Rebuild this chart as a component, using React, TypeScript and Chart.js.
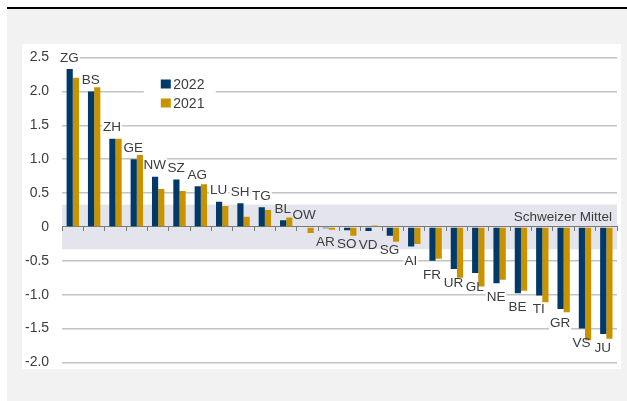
import React, { useEffect, useRef } from "react";
import { Chart, registerables } from "chart.js";

Chart.register(...registerables);

const categories = ["ZG", "BS", "ZH", "GE", "NW", "SZ", "AG", "LU", "SH", "TG", "BL", "OW", "AR", "SO", "VD", "SG", "AI", "FR", "UR", "GL", "NE", "BE", "TI", "GR", "VS", "JU"];
const values2022 = [2.33, 2.0, 1.3, 1.0, 0.74, 0.7, 0.6, 0.37, 0.35, 0.29, 0.1, 0.0, -0.02, -0.05, -0.06, -0.13, -0.29, -0.5, -0.62, -0.68, -0.83, -0.98, -1.01, -1.21, -1.5, -1.58];
const values2021 = [2.2, 2.06, 1.3, 1.06, 0.56, 0.53, 0.63, 0.31, 0.15, 0.25, 0.14, -0.09, -0.04, -0.13, 0.02, -0.22, -0.25, -0.47, -0.75, -0.88, -0.78, -0.94, -1.11, -1.26, -1.67, -1.65];
const seriesNames = ["2022", "2021"];
const bandRange = [-0.33, 0.33];
const bandLabel = "Schweizer Mittel";
const yMin = -2.0;
const yMax = 2.5;
const yStep = 0.5;

const NAVY = "#013a68";
const GOLD = "#c99300";
const BAND = "#e4e4ed";
const TEXT = "#3c3c3c";
const FONT = "'Liberation Sans', Arial, Helvetica, sans-serif";

const decorPlugin = {
  id: "decor",
  beforeDraw(chart: any) {
    const { ctx, chartArea, scales } = chart;
    const y = scales.y;
    const top = y.getPixelForValue(bandRange[1]);
    const bot = y.getPixelForValue(bandRange[0]);
    ctx.save();
    ctx.fillStyle = BAND;
    ctx.fillRect(chartArea.left, top, chartArea.right - chartArea.left, bot - top);
    ctx.restore();
  },
  beforeDatasetsDraw(chart: any) {
    const { ctx, scales } = chart;
    const x = scales.x;
    const y = scales.y;
    const bTop = y.getPixelForValue(bandRange[1]);
    const bBot = y.getPixelForValue(bandRange[0]);
    ctx.save();
    ctx.font = `13.5px ${FONT}`;
    ctx.fillStyle = "#ffffff";
    const fillOutside = (rx: number, ry1: number, rw: number, ry2: number) => {
      const a2 = Math.min(ry2, bTop);
      if (a2 > ry1) ctx.fillRect(rx, ry1, rw, a2 - ry1);
      const b1 = Math.max(ry1, bBot);
      if (ry2 > b1) ctx.fillRect(rx, b1, rw, ry2 - b1);
    };
    categories.forEach((c, i) => {
      const v = values2022[i];
      const px = x.getPixelForValue(i) - 3.5;
      const base = v >= 0 ? y.getPixelForValue(v) - 7.5 : y.getPixelForValue(v) + 18;
      const w = ctx.measureText(c).width;
      fillOutside(px - w / 2 - 1, base - 12, w + 2, base + 3);
    });
    // legend background
    const lx = x.getPixelForValue(0) + 88;
    const ly = y.getPixelForValue(yMax) + 22;
    fillOutside(lx - 17, ly - 6, 72, ly + 34);
    ctx.restore();
  },
  afterDatasetsDraw(chart: any) {
    const { ctx, scales, chartArea } = chart;
    const x = scales.x;
    const y = scales.y;
    ctx.save();
    ctx.font = `13.5px ${FONT}`;
    ctx.fillStyle = TEXT;
    ctx.textAlign = "center";
    ctx.textBaseline = "alphabetic";
    categories.forEach((c, i) => {
      const v = values2022[i];
      const px = x.getPixelForValue(i) - 3.5;
      const base = v >= 0 ? y.getPixelForValue(v) - 7.5 : y.getPixelForValue(v) + 18;
      ctx.fillText(c, px, base);
    });
    // band label
    ctx.textAlign = "right";
    ctx.fillText(bandLabel, chartArea.right - 5, y.getPixelForValue(bandRange[1]) + 16);
    // legend
    const lx = x.getPixelForValue(0) + 88;
    const ly = y.getPixelForValue(yMax) + 22;
    const colors = [NAVY, GOLD];
    ctx.textAlign = "left";
    ctx.font = `14px ${FONT}`;
    seriesNames.forEach((n, k) => {
      const yy = ly + k * 19;
      ctx.fillStyle = colors[k];
      ctx.fillRect(lx, yy, 10, 9);
      ctx.fillStyle = TEXT;
      ctx.fillText(n, lx + 12.5, yy + 9);
    });
    ctx.restore();
  },
};

export default function App() {
  const ref = useRef<HTMLCanvasElement | null>(null);

  useEffect(() => {
    document.body.style.margin = "0";
    if (!ref.current) return;
    const chart = new Chart(ref.current, {
      type: "bar",
      data: {
        labels: categories,
        datasets: [
          { label: seriesNames[0], data: values2022, backgroundColor: NAVY, categoryPercentage: 0.58, barPercentage: 1.0 },
          { label: seriesNames[1], data: values2021, backgroundColor: GOLD, categoryPercentage: 0.58, barPercentage: 1.0 },
        ],
      },
      options: {
        animation: false,
        responsive: false,
        devicePixelRatio: 1,
        layout: { padding: { left: 12, right: 10, top: 57.5, bottom: 38.5 } },
        plugins: { legend: { display: false }, tooltip: { enabled: false } },
        scales: {
          x: {
            type: "category",
            position: { y: 0 } as any,
            offset: true,
            ticks: { display: false },
            grid: { display: true, drawOnChartArea: false, drawTicks: true, tickLength: 4, color: "#7a7a7a", lineWidth: 1, offset: true },
            border: { display: true, color: "#7a7a7a", width: 1 },
          },
          y: {
            min: yMin,
            max: yMax,
            ticks: {
              stepSize: yStep,
              padding: 13,
              color: TEXT,
              font: { family: FONT, size: 14 },
              callback: (v: any) => (Number(v) === 0 ? "0" : Number(v).toFixed(1)),
            },
            grid: {
              drawTicks: false,
              color: (c: any) => (c.tick && c.tick.value === 0 ? "rgba(0,0,0,0)" : "#c3c3c3"),
              lineWidth: 1.5,
            },
            border: { display: false },
          },
        },
      },
      plugins: [decorPlugin],
    });
    return () => chart.destroy();
  }, []);

  return (
    <div style={{ position: "fixed", left: 0, top: 0, width: 627, height: 401, overflow: "hidden", background: "#ffffff" }}>
      <div style={{ position: "absolute", left: 7, top: 7, width: 620, height: 2, background: "#000" }} />
      <div style={{ position: "absolute", left: 7, top: 9, width: 620, height: 392, background: "#f2f2f2" }} />
      <div style={{ position: "absolute", left: 22, top: 44, width: 599, height: 325, background: "#ffffff" }} />
      <canvas ref={ref} width={627} height={401} style={{ position: "absolute", left: 0, top: 0, width: 627, height: 401 }} />
    </div>
  );
}
